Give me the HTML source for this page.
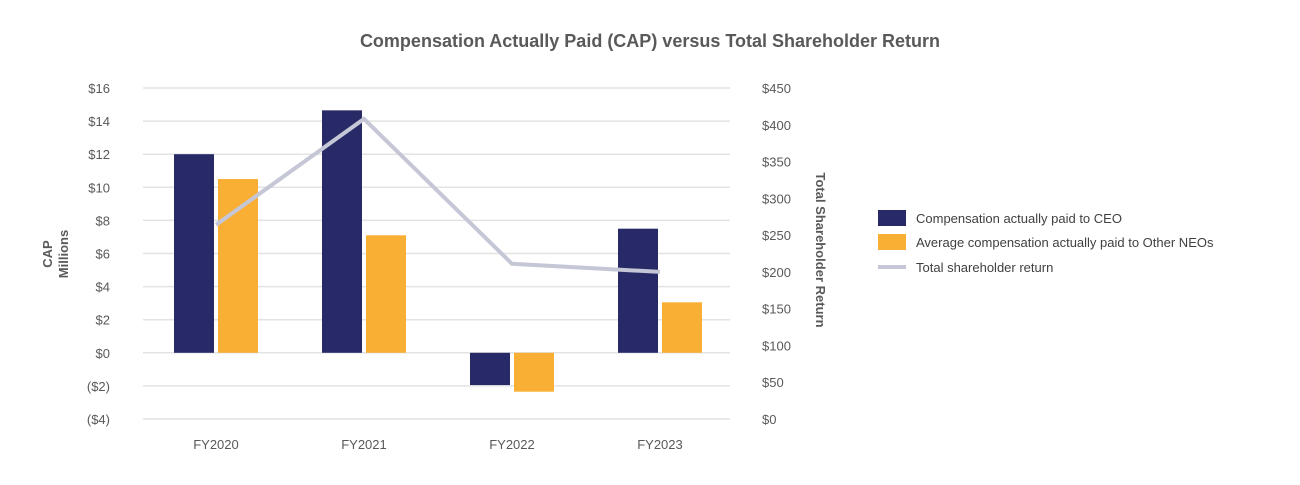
<!DOCTYPE html>
<html><head><meta charset="utf-8"><style>
body{margin:0;background:#fff;width:1300px;height:480px;overflow:hidden;font-family:"Liberation Sans",sans-serif}
</style></head><body>
<svg id="chart" width="1300" height="480" font-family="Liberation Sans, sans-serif">
<text x="650" y="47" text-anchor="middle" font-size="18" font-weight="bold" fill="#595959">Compensation Actually Paid (CAP) versus Total Shareholder Return</text>
<g id="grid"></g><g id="bars"></g><g id="line"></g><g id="ticks"></g>
<text transform="translate(52,254) rotate(-90)" text-anchor="middle" font-size="13" font-weight="bold" fill="#595959"><tspan x="0" dy="0">CAP</tspan><tspan x="0" dy="16">Millions</tspan></text>
<text transform="translate(816,250) rotate(90)" text-anchor="middle" font-size="13" font-weight="bold" fill="#595959">Total Shareholder Return</text>
<g font-size="13" fill="#404040">
<rect x="878" y="210" width="28" height="16" fill="#282a67"/>
<text x="916" y="223">Compensation actually paid to CEO</text>
<rect x="878" y="234" width="28" height="16" fill="#f9af33"/>
<text x="916" y="247">Average compensation actually paid to Other NEOs</text>
<rect x="878" y="265" width="28" height="4" fill="#c5c7d6"/>
<text x="916" y="272">Total shareholder return</text>
</g>
</svg>
<script>
const categories=["FY2020","FY2021","FY2022","FY2023"];
const ceoValues=[12.0,14.65,-1.95,7.5];
const neoValues=[10.5,7.1,-2.35,3.05];
const tsrValues=[264,408,211,200];
const leftTicks=[16,14,12,10,8,6,4,2,0,-2,-4];
const rightTicks=[450,400,350,300,250,200,150,100,50,0];
const NS="http://www.w3.org/2000/svg";
const yL=v=>88+(16-v)*(331/20);
const yR=v=>419-v*(331/450);
const xC=i=>216+i*148;
function mk(tag,attrs,parent){const e=document.createElementNS(NS,tag);for(const k in attrs)e.setAttribute(k,attrs[k]);document.getElementById(parent).appendChild(e);return e;}
leftTicks.forEach(t=>{
  const g=mk("line",{x1:143,x2:730,y1:yL(t),y2:yL(t),stroke:"#e3e3e3","stroke-width":1.5},"grid");
  
  
  const lbl=mk("text",{x:110,y:yL(t)+5,"text-anchor":"end","font-size":13,fill:"#595959"},"ticks");
  lbl.textContent=t<0?"($"+(-t)+")":"$"+t;
  
  
});
rightTicks.forEach(t=>{
  const lbl=mk("text",{x:762,y:yR(t)+5,"font-size":13,fill:"#595959"},"ticks");
  lbl.textContent="$"+t;
  
  
});
categories.forEach((c,i)=>{
  const lbl=mk("text",{x:xC(i),y:449,"text-anchor":"middle","font-size":13,fill:"#595959"},"ticks");
  lbl.textContent=c;
  
  
  const v1=ceoValues[i],v2=neoValues[i];
  const b1=mk("rect",{x:xC(i)-42,width:40,y:Math.min(yL(v1),yL(0)),height:Math.abs(yL(v1)-yL(0)),fill:"#282a67"},"bars");
  
  
  const b2=mk("rect",{x:xC(i)+2,width:40,y:Math.min(yL(v2),yL(0)),height:Math.abs(yL(v2)-yL(0)),fill:"#f9af33"},"bars");
  
  
});
const pl=mk("polyline",{points:tsrValues.map((v,i)=>xC(i)+","+yR(v)).join(" "),fill:"none",stroke:"#c5c7d6","stroke-width":4},"line");


</script>
</body></html>
